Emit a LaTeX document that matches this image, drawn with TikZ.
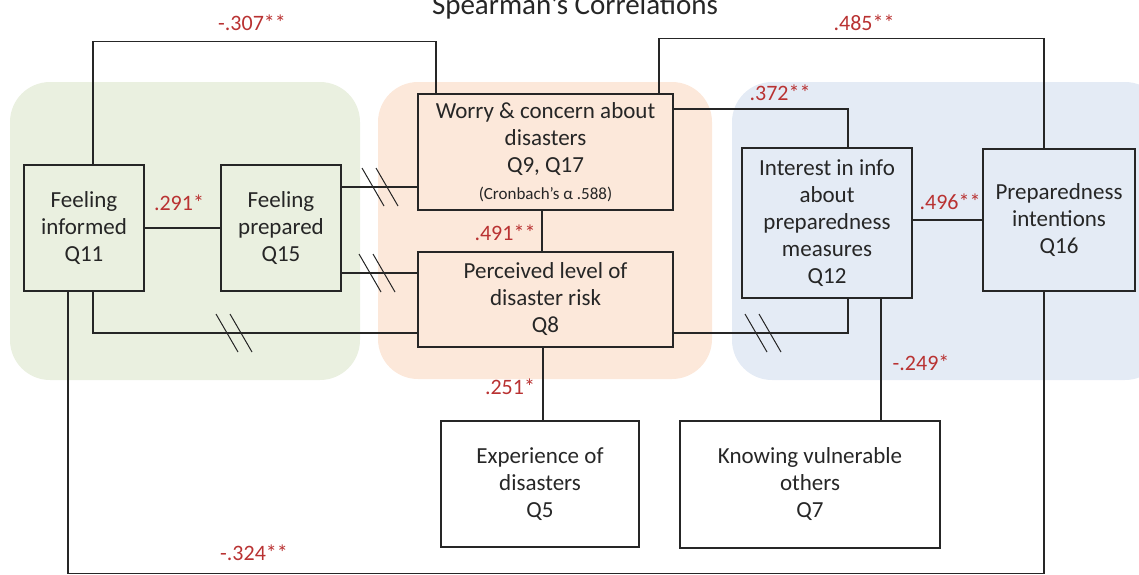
\documentclass[tikz,border=0pt]{standalone}
\usepackage{fontspec}
\setmainfont{Carlito}
\definecolor{grnbg}{RGB}{234,240,224}
\definecolor{orgbg}{RGB}{252,232,218}
\definecolor{blubg}{RGB}{228,235,245}
\definecolor{corrred}{RGB}{185,50,50}
\begin{document}
\begin{tikzpicture}[x=1pt,y=-1pt,
  box/.style={draw=black!85, line width=1.3pt, inner sep=0pt, align=center,
    text=black!85, font=\fontsize{23}{27}\selectfont},
  lbl/.style={text=corrred, inner sep=0pt, font=\fontsize{22}{26}\selectfont},
  link/.style={draw=black!85, line width=1.3pt},
  brk/.pic={\draw[black!85, line width=1pt] (-18,-19) -- (4,19);
            \draw[black!85, line width=1pt] (-4,-19) -- (18,19);}]
  \useasboundingbox (0,0) rectangle (1139,574);
  \fill[grnbg, rounded corners=40pt] (10,82) rectangle (360,380);
  \fill[orgbg, rounded corners=40pt] (378,82) rectangle (712,379);
  \fill[blubg, rounded corners=40pt] (732,82) rectangle (1165,380);
  \node[font=\fontsize{29}{34}\selectfont, text=black!85, anchor=base] (title) at (575,14) {Spearman’s Correlations};
  \node[box, minimum width=120, minimum height=126] (inf) at (84,228) {Feeling\\informed\\Q11};
  \node[box, minimum width=120, minimum height=126] (pre) at (281,228) {Feeling\\prepared\\Q15};
  \node[box, minimum width=255, minimum height=116] (wor) at (545.5,152) {Worry \& concern about\\disasters\\Q9, Q17\\{\fontsize{17}{20}\selectfont (Cronbach’s α .588)}};
  \node[box, minimum width=255, minimum height=95] (per) at (545.5,299.5) {Perceived level of\\disaster risk\\Q8};
  \node[box, minimum width=170, minimum height=150] (int) at (827,223) {Interest in info\\about\\preparedness\\measures\\Q12};
  \node[box, minimum width=152, minimum height=142] (prp) at (1059,220) {Preparedness\\intentions\\Q16};
  \node[box, minimum width=198, minimum height=126] (exp) at (540,484) {Experience of\\disasters\\Q5};
  \node[box, minimum width=260, minimum height=127] (kno) at (810,484.5) {Knowing vulnerable\\others\\Q7};
  \draw[link] ([xshift=9pt]inf.north) -- ++(0,-123) -| ([xshift=-109.5pt]wor.north);
  \draw[link] ([xshift=113.5pt]wor.north) -- ++(0,-55) -| ([xshift=-15pt]prp.north);
  \draw[link] ([yshift=43pt]wor.east) -| ([xshift=21pt]int.north);
  \draw[link] (inf) -- (pre);
  \draw[link] ([yshift=41pt]pre.east) -- ([yshift=41pt]pre.east -| wor.west);
  \draw[link] ([yshift=-45pt]pre.east) -- ([yshift=-45pt]pre.east -| per.west);
  \draw[link] ([xshift=9pt]inf.south) |- ([yshift=-33.5pt]per.west);
  \draw[link] ([yshift=-33.5pt]per.east) -| ([xshift=21pt]int.south);
  \draw[link] ([xshift=-3.5pt]wor.south) -- ([xshift=-3.5pt]per.north);
  \draw[link] ([xshift=-2.5pt]per.south) -- ([xshift=-2.5pt]per.south |- exp.north);
  \draw[link] ([xshift=54pt]int.south) -- ([xshift=54pt]int.south |- kno.north);
  \draw[link] (prp.west -| int.east) -- (prp.west);
  \draw[link] ([xshift=-16pt]inf.south) -- ++(0,282) -| ([xshift=-15pt]prp.south);
  \pic at (234,333) {brk};
  \pic at (380,187) {brk};
  \pic at (377,273) {brk};
  \pic at (763,333) {brk};
  \node[lbl] (c307) at (252,23) {-.307**};
  \node[lbl] (c485) at (864,23) {.485**};
  \node[lbl] (c372) at (780,93) {.372**};
  \node[lbl] (c291) at (179,203) {.291*};
  \node[lbl] (c491) at (505,233) {.491**};
  \node[lbl] (c496) at (950,202) {.496**};
  \node[lbl] (c251) at (510,387) {.251*};
  \node[lbl] (c249) at (921,363) {-.249*};
  \node[lbl] (c324) at (254,553) {-.324**};
\end{tikzpicture}
\end{document}
